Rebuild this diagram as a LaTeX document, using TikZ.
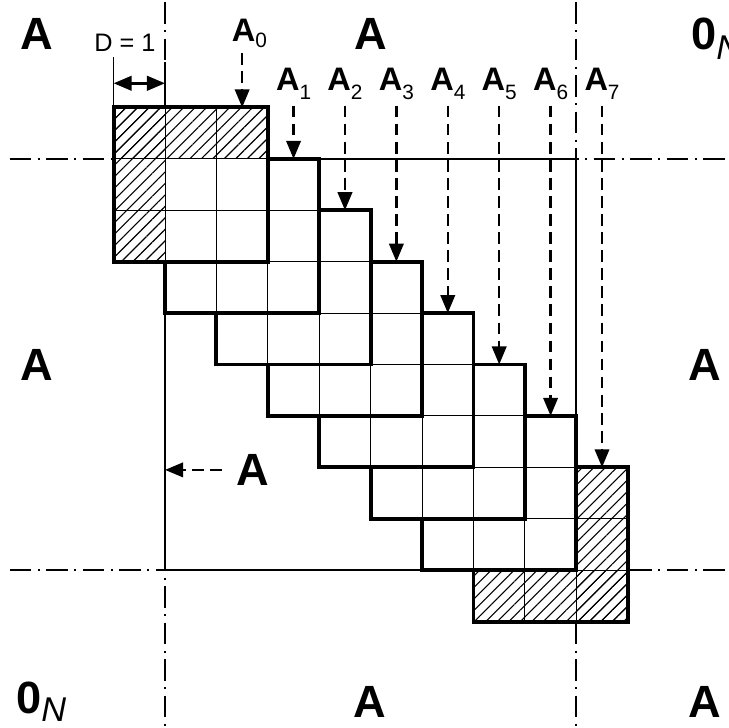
\documentclass[tikz,border=0pt]{standalone}
\usepackage{fontspec}
\setmainfont{Liberation Sans}
\usetikzlibrary{positioning, arrows.meta, patterns.meta}

\begin{document}
\begin{tikzpicture}[x=1cm, y=1cm,
    big/.style={font=\fontsize{25}{25}\selectfont\bfseries, inner sep=0pt},
    sub/.style={font=\fontsize{18}{18}\selectfont\bfseries, inner sep=0pt, anchor=south},
    cellgrid/.style={line width=0.55pt},
    blockedge/.style={line width=2.2pt, line join=miter},
    frame/.style={line width=1pt},
    dashdot/.style={line width=1pt, dash pattern=on 12pt off 3.5pt on 1.2pt off 3.5pt},
    ptr/.style={line width=1.3pt, dash pattern=on 6.5pt off 3.5pt, -{Triangle[length=10pt,width=8pt]}},
    hatch/.style={pattern={Lines[angle=45,distance=4.5pt,line width=0.6pt]}}]

  \useasboundingbox (-3.21,-3.07) rectangle (10.97,11.09);

  % partition lines and the N x N square
  \draw[dashdot] (0,11.05) -- (0,-3.07);
  \draw[dashdot] (8,11.05) -- (8,-3.07);
  \draw[dashdot] (-3.02,8) -- (10.97,8);
  \draw[dashdot] (-3.02,0) -- (10.97,0);
  \draw[frame] (0,0) rectangle (8,8);

  % blocks A7 ... A0, each one laid over the next
  \foreach \k in {7,...,0}{
    \fill[white] (\k-1,6-\k) rectangle (\k+2,9-\k);
    \ifnum\k=0
      \fill[hatch] (-1,8) rectangle (2,9);
      \fill[hatch] (-1,6) rectangle (0,9);
    \fi
    \ifnum\k=7
      \fill[hatch] (8,-1) rectangle (9,2);
      \fill[hatch] (6,-1) rectangle (9,0);
    \fi
    \draw[cellgrid] (\k-1,6-\k) grid (\k+2,9-\k);
    \draw[blockedge] (\k-1,6-\k) rectangle (\k+2,9-\k);
  }

  % block labels
  \node[sub] (a0) at (1.64,10.16) {A\raisebox{-3pt}{\fontsize{11.5}{11.5}\selectfont\mdseries 0}};
  \coordinate (t0) at (1.5,9);
  \draw[ptr] ([yshift=-3pt]a0.south -| t0) -- (t0);
  \foreach \k in {1,...,7}{
    \node[sub] (a\k) at (\k+1.5,9.14) {A\raisebox{-5pt}{\fontsize{11.5}{11.5}\selectfont\mdseries\k}};
    \coordinate (t\k) at (\k+1.5,9-\k);
    \draw[ptr, shorten <=3pt] (a\k) -- (t\k);
  }

  % D = 1
  \draw[line width=0.9pt] (-1,9) -- (-1,9.98);
  \draw[line width=0.9pt] (0,9) -- (0,9.88);
  \coordinate (dimL) at (-1,9.47);
  \coordinate (dimR) at (0,9.47);
  \draw[line width=1.5pt, {Triangle[length=10pt,width=8pt]}-{Triangle[length=10pt,width=8pt]}] (dimL) -- (dimR);
  \node[font=\fontsize{14}{14}\selectfont, inner sep=0pt] (dlbl) at (-0.78,10.25) {D = 1};

  % sub-matrix labels
  \node[big] (tl) at (-2.49,10.43) {A};
  \node[big] (tc) at (4.0,10.43) {A};
  \node[big, anchor=base west] (tr) at (10.23,10.12) {0\raisebox{-5.5pt}{\fontsize{19}{19}\selectfont\mdseries\itshape N}};
  \node[big] (ml) at (-2.5,3.99) {A};
  \node[big] (mr) at (10.49,3.99) {A};
  \node[big, anchor=base west] (bl) at (-2.9,-2.78) {0\raisebox{-4.5pt}{\fontsize{19}{19}\selectfont\mdseries\itshape N}};
  \node[big] (bc) at (3.99,-2.57) {A};
  \node[big] (br) at (10.5,-2.57) {A};

  % A inside the square
  \node[big] (mid) at (1.71,1.95) {A};
  \coordinate (sqL) at (0,1.95);
  \draw[ptr, shorten <=8pt] (mid.west) -- (sqL);
\end{tikzpicture}
\end{document}
